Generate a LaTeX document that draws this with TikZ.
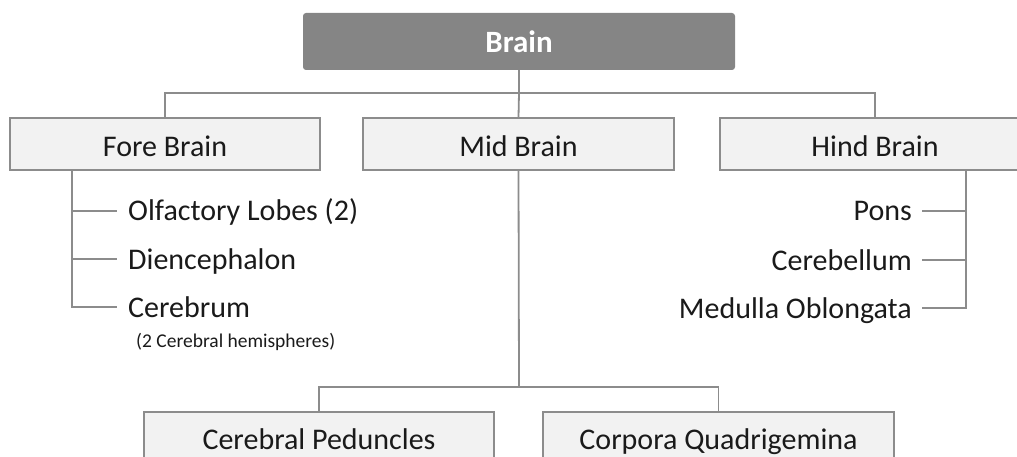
\documentclass[tikz,border=0pt]{standalone}
\usepackage{fontspec}
\setmainfont{Carlito}
\definecolor{linegray}{HTML}{8C8C8C}
\definecolor{boxfill}{HTML}{F2F2F2}
\definecolor{topfill}{HTML}{858585}
\definecolor{txt}{HTML}{1A1A1A}
\tikzset{
  conn/.style={draw=linegray, line width=1.8pt},
  levelbox/.style={draw=linegray, fill=boxfill, line width=1.8pt, minimum height=52pt,
    inner sep=0pt, text height=25pt, text depth=0pt, text=txt, font=\fontsize{30}{36}\selectfont},
  topbox/.style={fill=topfill, rounded corners=3pt, minimum width=432pt, minimum height=57pt,
    inner sep=0pt, text height=23pt, text depth=0pt, text=white, font=\fontsize{31}{36}\selectfont\bfseries},
  leftitem/.style={anchor=west, inner xsep=11pt, inner ysep=0pt, text height=20pt, text depth=0pt,
    text=txt, font=\fontsize{30}{36}\selectfont},
  rightitem/.style={anchor=east, inner xsep=10pt, inner ysep=0pt, text height=20pt, text depth=0pt,
    text=txt, font=\fontsize{30}{36}\selectfont},
  subnote/.style={anchor=west, inner sep=0pt, text=txt, font=\fontsize{19.5}{24}\selectfont}
}
\begin{document}
\begin{tikzpicture}[x=1pt, y=-1pt]
\useasboundingbox (0,0) rectangle (1017,457);
% top
\node[topbox] (brain) at (519,41.5) {Brain};
% level boxes
\node[levelbox, minimum width=310pt] (fore) at (165,144) {Fore Brain};
\node[levelbox, minimum width=311pt] (mid) at (518.5,144) {Mid Brain};
\node[levelbox, minimum width=310pt] (hind) at (875,144) {Hind Brain};
% junctions
\coordinate (j) at (519,93);
\draw[conn] (brain.south) -- (j);
\draw[conn] (j) -| (fore.north);
\draw[conn] (j) -- (mid.north);
\draw[conn] (j) -| (hind.north);
% fore brain items
\node[leftitem] (olf) at (117,211) {Olfactory Lobes (2)};
\node[leftitem] (dien) at (117,259) {Diencephalon};
\node[leftitem] (cer) at (117,307) {Cerebrum};
\node[subnote] (hemi) at (136,342) {(2 Cerebral hemispheres)};
\coordinate (fv) at (72,170);
\draw[conn] (fv) |- (olf.west);
\draw[conn] (fv) |- (dien.west);
\draw[conn] (fv) |- (cer.west);
% hind brain items
\node[rightitem] (pons) at (922,211) {Pons};
\node[rightitem] (cbl) at (922,260) {Cerebellum};
\node[rightitem] (med) at (922,308) {Medulla Oblongata};
\coordinate (hv) at (966,170);
\draw[conn] (hv) |- (pons.east);
\draw[conn] (hv) |- (cbl.east);
\draw[conn] (hv) |- (med.east);
% mid brain children
\node[levelbox, minimum width=350pt, text height=22pt] (cp) at (319,438) {Cerebral Peduncles};
\node[levelbox, minimum width=351pt, text height=22pt] (cq) at (718.5,438) {Corpora Quadrigemina};
\coordinate (mj) at (519,387);
\draw[conn] (mid.south) -- (mj);
\draw[conn] (mj) -| (cp.north);
\draw[conn] (mj) -| (cq.north);
\end{tikzpicture}
\end{document}
